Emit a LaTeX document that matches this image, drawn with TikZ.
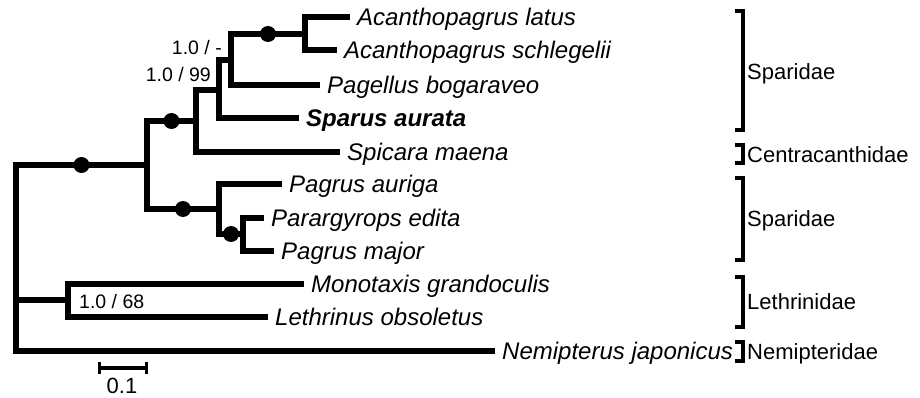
\documentclass[tikz,border=0pt]{standalone}
\usepackage{fontspec}
\setmainfont{Liberation Sans}
\usetikzlibrary{calc}

\begin{document}
\begin{tikzpicture}[
  x=1pt, y=-1pt,
  rama/.style={line width=5.5pt, line join=miter, line cap=butt},
  hoja/.style={anchor=west, inner xsep=7pt, inner ysep=0pt, text height=17pt, text depth=0pt, font=\fontsize{24}{28}\selectfont\itshape},
  soporte/.style={circle, fill=black, inner sep=0pt, minimum size=16pt},
  valor/.style={inner sep=0pt, font=\fontsize{19.5}{23}\selectfont},
  familia/.style={anchor=west, inner xsep=2pt, inner ysep=0pt, text height=15.8pt, text depth=0pt, font=\fontsize{22}{26}\selectfont},
  corchete/.style={line width=3.5pt, line join=miter}
]
  \useasboundingbox (0,0) rectangle (920,398);

  % --- NODOS INTERNOS ---
  \coordinate (raiz) at (16, 258);   % raíz
  \coordinate (nA) at (147, 165);
  \coordinate (nB) at (196, 121);
  \coordinate (nC) at (219, 90);
  \coordinate (nD) at (231, 60);
  \coordinate (nE) at (305, 34);
  \coordinate (nF) at (219, 209);
  \coordinate (nG) at (243, 234);
  \coordinate (nH) at (68, 300);

  % --- HOJAS ---
  \node[hoja] (latus) at (350, 17) {Acanthopagrus latus};
  \node[hoja] (schle) at (337, 50) {Acanthopagrus schlegelii};
  \node[hoja] (bogar) at (320, 85) {Pagellus bogaraveo};
  \node[hoja] (aurat) at (299, 118) {\textbf{Sparus aurata}};
  \node[hoja] (maena) at (340, 152) {Spicara maena};
  \node[hoja] (aurig) at (282, 184) {Pagrus auriga};
  \node[hoja] (edita) at (264, 218) {Parargyrops edita};
  \node[hoja] (major) at (274, 251) {Pagrus major};
  \node[hoja] (grand) at (304, 284) {Monotaxis grandoculis};
  \node[hoja] (obsol) at (268, 317) {Lethrinus obsoletus};
  \node[hoja] (japon) at (495, 351) {Nemipterus japonicus};

  % --- RAMAS ---
  \draw[rama] (raiz) |- (nA); \draw[rama] (raiz) |- (nH); \draw[rama] (raiz) |- (japon);
  \draw[rama] (nA) |- (nB); \draw[rama] (nA) |- (nF);
  \draw[rama] (nB) |- (nC); \draw[rama] (nB) |- (maena);
  \draw[rama] (nC) |- (nD); \draw[rama] (nC) |- (aurat);
  \draw[rama] (nD) |- (nE); \draw[rama] (nD) |- (bogar);
  \draw[rama] (nE) |- (latus); \draw[rama] (nE) |- (schle);
  \draw[rama] (nF) |- (aurig); \draw[rama] (nF) |- (nG);
  \draw[rama] (nG) |- (edita); \draw[rama] (nG) |- (major);
  \draw[rama] (nH) |- (grand); \draw[rama] (nH) |- (obsol);

  % Soportes (puntos negros)
  \node[soporte] (s1) at ($(raiz |- nA)!.5!(nA)$) {};
  \node[soporte] (s2) at ($(nA |- nB)!.5!(nB)$) {};
  \node[soporte] (s3) at ($(nD |- nE)!.5!(nE)$) {};
  \node[soporte] (s4) at ($(nA |- nF)!.5!(nF)$) {};
  \node[soporte] (s5) at ($(nF |- nG)!.5!(nG)$) {};

  % Valores de soporte
  \node[valor, anchor=base east] (v1) at ([xshift=-9pt, yshift=5pt]nD) {1.0 / -};
  \node[valor, anchor=base east] (v2) at ([xshift=-8pt, yshift=8pt]nC) {1.0 / 99};
  \node[valor, anchor=base west] (v3) at ([xshift=11pt, yshift=-8pt]nH) {1.0 / 68};

  % --- ESCALA ---
  \coordinate (e0) at (99, 368);
  \coordinate (e1) at (146, 368);
  \draw[line width=4pt] (e0) -- (e1);
  \draw[line width=3pt] ([yshift=-6pt]e0) -- ([yshift=6pt]e0);
  \draw[line width=3pt] ([yshift=-6pt]e1) -- ([yshift=6pt]e1);
  \node[inner sep=0pt, anchor=base, font=\fontsize{22}{26}\selectfont] (escala) at (122, 393) {0.1};

  % --- FAMILIAS ---
  \draw[corchete] (735, 11) -- (743, 11) -- (743, 130) -- (735, 130);
  \node[familia] (fam1) at (745, 72) {Sparidae};
  \draw[corchete] (735, 145) -- (743, 145) -- (743, 163) -- (735, 163);
  \node[familia] (fam2) at (745, 155) {Centracanthidae};
  \draw[corchete] (735, 178) -- (743, 178) -- (743, 260) -- (735, 260);
  \node[familia] (fam3) at (745, 219) {Sparidae};
  \draw[corchete] (735, 277) -- (743, 277) -- (743, 327) -- (735, 327);
  \node[familia] (fam4) at (745, 302) {Lethrinidae};
  \draw[corchete] (735, 342) -- (743, 342) -- (743, 361) -- (735, 361);
  \node[familia] (fam5) at (745, 352) {Nemipteridae};
\end{tikzpicture}
\end{document}
